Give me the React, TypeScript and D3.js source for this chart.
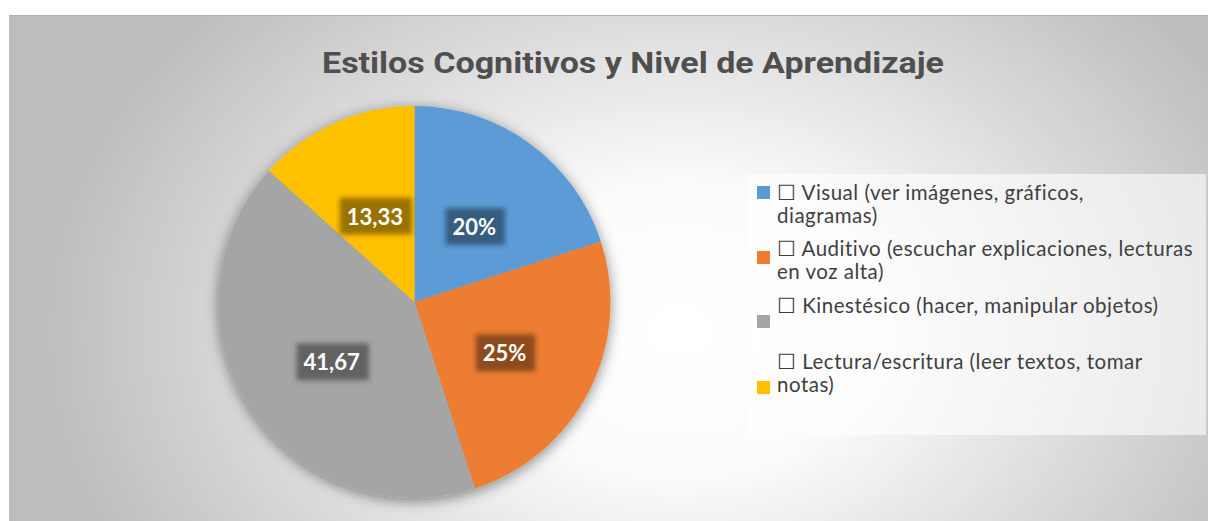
import React, { useEffect, useRef } from "react";
import * as d3 from "d3";

const categories = [
  "Visual (ver imágenes, gráficos, diagramas)",
  "Auditivo (escuchar explicaciones, lecturas en voz alta)",
  "Kinestésico (hacer, manipular objetos)",
  "Lectura/escritura (leer textos, tomar notas)",
];
const values = [20, 25, 41.67, 13.33];
const dataLabels = ["20%", "25%", "41,67", "13,33"];
const colors = ["#5b9bd5", "#ed7d31", "#a5a5a5", "#ffc000"];
// legend text as wrapped in the original
const legendLines = [
  ["\u2610 Visual (ver imágenes, gráficos,", "diagramas)"],
  ["\u2610 Auditivo (escuchar explicaciones, lecturas", "en voz alta)"],
  ["\u2610 Kinestésico (hacer, manipular objetos)"],
  ["\u2610 Lectura/escritura (leer textos, tomar", "notas)"],
];

const W = 1208;
const H = 521;

const App = () => {
  const ref = useRef<SVGSVGElement>(null);

  useEffect(() => {
    const svg = d3.select(ref.current);
    svg.selectAll("*").remove();

    const defs = svg.append("defs");
    const grad = defs
      .append("radialGradient")
      .attr("id", "bg")
      .attr("gradientUnits", "userSpaceOnUse")
      .attr("cx", 680)
      .attr("cy", 330)
      .attr("r", 640)
      .attr("gradientTransform", "translate(680,330) scale(1,0.75) translate(-680,-330)");
    grad.append("stop").attr("offset", 0).attr("stop-color", "#ffffff");
    grad.append("stop").attr("offset", 0.3).attr("stop-color", "#fbfbfb");
    grad.append("stop").attr("offset", 1).attr("stop-color", "#bdbdbd");

    const shadow = defs.append("filter").attr("id", "pieShadow").attr("x", "-20%").attr("y", "-20%").attr("width", "140%").attr("height", "140%");
    shadow
      .append("feDropShadow")
      .attr("dx", 0)
      .attr("dy", 3)
      .attr("stdDeviation", 7)
      .attr("flood-color", "#000")
      .attr("flood-opacity", 0.45);

    const blur = defs.append("filter").attr("id", "lblBlur").attr("x", "-30%").attr("y", "-30%").attr("width", "160%").attr("height", "160%");
    blur.append("feGaussianBlur").attr("stdDeviation", 2.5);

    // page white, chart area with gradient
    svg.append("rect").attr("width", W).attr("height", H).attr("fill", "#fff");
    svg.append("rect").attr("x", 9).attr("y", 15).attr("width", W - 9).attr("height", H - 15).attr("fill", "url(#bg)");
    svg.append("line").attr("x1", 9).attr("x2", W).attr("y1", 15.5).attr("y2", 15.5).attr("stroke", "#b0b0b0").attr("stroke-width", 1);

    svg
      .append("text")
      .attr("x", 633)
      .attr("y", 73)
      .attr("text-anchor", "middle")
      .style("font-family", "Roboto, sans-serif")
      .attr("font-weight", "bold")
      .attr("font-size", 30)
      .attr("textLength", 622)
      .attr("lengthAdjust", "spacingAndGlyphs")
      .attr("fill", "#4f4f4f")
      .text("Estilos Cognitivos y Nivel de Aprendizaje");

    const cx = 414.5;
    const cy = 302;
    const R = 196;

    const pie = d3.pie<number>().sort(null).value((d) => d);
    const arcs = pie(values);
    const arc = d3.arc<d3.PieArcDatum<number>>().innerRadius(0).outerRadius(R);
    const labelArc = d3.arc<d3.PieArcDatum<number>>().innerRadius(100).outerRadius(100);

    const g = svg.append("g").attr("transform", `translate(${cx},${cy})`);
    g.append("g")
      .attr("filter", "url(#pieShadow)")
      .selectAll("path")
      .data(arcs)
      .join("path")
      .attr("d", arc)
      .attr("fill", (_, i) => colors[i]);

    const lbl = g
      .selectAll("g.lbl")
      .data(arcs)
      .join("g")
      .attr("class", "lbl")
      .attr("transform", (d) => {
        const [x, y] = labelArc.centroid(d);
        return `translate(${x + 1},${y + 6})`;
      });

    lbl.each(function (d, i) {
      const sel = d3.select(this);
      const t = sel
        .append("text")
        .attr("text-anchor", "middle")
        .attr("dy", "0.36em")
        .style("font-family", "Lato, Open Sans, sans-serif")
        .attr("font-weight", "bold")
        .attr("font-size", 22)
        .attr("fill", "#fff")
        .text(dataLabels[i]);
      const bb = (t.node() as SVGTextElement).getBBox();
      sel
        .insert("rect", "text")
        .attr("x", bb.x - 7)
        .attr("y", bb.y - 5)
        .attr("width", bb.width + 16)
        .attr("height", bb.height + 10)
        .attr("fill", "#000")
        .attr("opacity", 0.4)
        .attr("filter", "url(#lblBlur)");
    });

    // legend
    svg
      .append("rect")
      .attr("x", 748)
      .attr("y", 174)
      .attr("width", 458)
      .attr("height", 261)
      .attr("fill", "#ffffff")
      .attr("opacity", 0.6);

    const legendTop = [200, 256, 313, 369];
    const swatchY = [186, 251, 315, 381];
    const leg = svg.append("g");
    categories.forEach((c, i) => {
      leg
        .append("rect")
        .attr("x", 757)
        .attr("y", swatchY[i])
        .attr("width", 13)
        .attr("height", 13)
        .attr("fill", colors[i]);
      const t = leg
        .append("text")
        .attr("x", 777)
        .attr("y", legendTop[i])
        .style("font-family", "Lato, Open Sans, sans-serif")
        .attr("font-size", 20.5)
        .attr("letter-spacing", 0.5)
        .attr("fill", "#404040");
      t.append("title").text(c);
      legendLines[i].forEach((line, j) => {
        t.append("tspan").attr("x", 777).attr("dy", j === 0 ? 0 : 23).text(line);
      });
    });
  }, []);

  return <svg ref={ref} width={W} height={H} style={{ position: "absolute", left: 0, top: 0 }} />;
};

export default App;
